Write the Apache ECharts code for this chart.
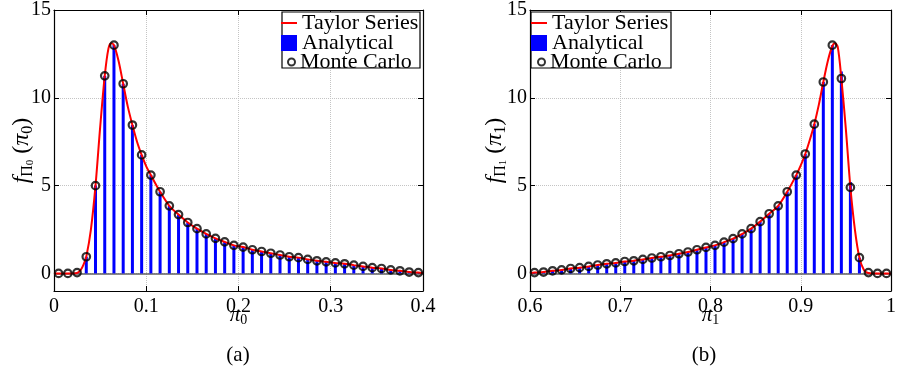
<!DOCTYPE html>
<html>
<head>
<meta charset="utf-8">
<script src="https://cdn.jsdelivr.net/npm/echarts@6/dist/echarts.min.js"></script>
<style>html,body{margin:0;padding:0;background:#fff}#c{width:899px;height:373px}</style>
</head>
<body>
<div id="c"></div>
<script>
// ---------- data ----------
const leftX = [0.005,0.015,0.025,0.035,0.045,0.055,0.065,0.075,0.085,0.095,0.105,0.115,0.125,0.135,0.145,0.155,0.165,0.175,0.185,0.195,0.205,0.215,0.225,0.235,0.245,0.255,0.265,0.275,0.285,0.295,0.305,0.315,0.325,0.335,0.345,0.355,0.365,0.375,0.385,0.395];
const leftAnalytical = [0,0,0.05,0.95,5.0,11.25,13.0,10.8,8.45,6.75,5.6,4.65,3.85,3.35,2.9,2.55,2.25,2.0,1.8,1.6,1.5,1.35,1.25,1.15,1.05,0.95,0.9,0.8,0.72,0.66,0.6,0.55,0.47,0.4,0.33,0.28,0.2,0.15,0.08,0.05];
const leftMonteCarlo = [0,0,0.05,0.95,5.0,11.25,13.0,10.8,8.45,6.75,5.6,4.65,3.85,3.35,2.9,2.55,2.25,2.0,1.8,1.6,1.5,1.35,1.25,1.15,1.05,0.95,0.9,0.8,0.72,0.66,0.6,0.55,0.47,0.4,0.33,0.28,0.2,0.15,0.08,0.05];
const leftTaylorX = [0,0.005,0.015,0.025,0.029,0.032,0.035,0.04,0.045,0.05,0.055,0.059,0.062,0.065,0.07,0.075,0.08,0.085,0.09,0.095,0.1,0.105,0.115,0.125,0.135,0.145,0.155,0.165,0.175,0.185,0.195,0.205,0.215,0.225,0.235,0.245,0.255,0.265,0.275,0.285,0.295,0.305,0.315,0.325,0.335,0.345,0.355,0.365,0.375,0.385,0.395,0.4];
const leftTaylorY = [0,0,0,0.02,0.2,0.5,0.95,2.5,5.0,8.3,11.25,12.8,13.1,13.0,12.1,10.8,9.5,8.45,7.5,6.75,6.1,5.6,4.65,3.85,3.35,2.9,2.55,2.25,2.0,1.8,1.6,1.5,1.35,1.25,1.15,1.05,0.95,0.9,0.8,0.72,0.66,0.6,0.55,0.47,0.4,0.33,0.28,0.2,0.15,0.08,0.05,0.03];

const rightX = [0.605,0.615,0.625,0.635,0.645,0.655,0.665,0.675,0.685,0.695,0.705,0.715,0.725,0.735,0.745,0.755,0.765,0.775,0.785,0.795,0.805,0.815,0.825,0.835,0.845,0.855,0.865,0.875,0.885,0.895,0.905,0.915,0.925,0.935,0.945,0.955,0.965,0.975,0.985,0.995];
const rightAnalytical = [0.05,0.08,0.15,0.2,0.28,0.33,0.4,0.48,0.55,0.6,0.68,0.72,0.8,0.88,0.95,1.02,1.12,1.22,1.35,1.48,1.6,1.78,1.98,2.25,2.55,2.95,3.4,3.85,4.65,5.6,6.8,8.5,10.9,13.0,11.5,5.2,0.9,0.05,0,0];
const rightMonteCarlo = [0.05,0.08,0.15,0.2,0.28,0.33,0.4,0.48,0.55,0.6,0.68,0.72,0.8,0.88,0.95,1.02,1.12,1.22,1.35,1.48,1.6,1.78,1.98,2.25,2.55,2.95,3.4,3.85,4.65,5.6,6.8,8.5,10.9,13.0,11.1,4.9,0.9,0.05,0,0];
const rightTaylorX = [0.6,0.605,0.615,0.625,0.635,0.645,0.655,0.665,0.675,0.685,0.695,0.705,0.715,0.725,0.735,0.745,0.755,0.765,0.775,0.785,0.795,0.805,0.815,0.825,0.835,0.845,0.855,0.865,0.875,0.885,0.895,0.9,0.905,0.91,0.915,0.92,0.925,0.93,0.935,0.938,0.941,0.945,0.95,0.955,0.96,0.965,0.97,0.975,0.985,1];
const rightTaylorY = [0.03,0.05,0.08,0.15,0.2,0.28,0.33,0.4,0.48,0.55,0.6,0.68,0.72,0.8,0.88,0.95,1.02,1.12,1.22,1.35,1.48,1.6,1.78,1.98,2.25,2.55,2.95,3.4,3.85,4.65,5.6,6.15,6.8,7.6,8.5,9.6,10.9,12.1,12.95,13.1,12.9,11.1,8.2,4.9,2.5,0.9,0.2,0.02,0,0];

const leftXTicks = {min: 0, max: 0.4, interval: 0.1};
const rightXTicks = {min: 0.6, max: 1, interval: 0.1};
const yRange = {min: -1, max: 15};
const yTickValues = [0, 5, 10, 15];

// ---------- chart ----------
const FONT = '"Liberation Serif", "DejaVu Serif", serif';
const chart = echarts.init(document.getElementById('c'));

function zip(xs, ys) { return xs.map((x, i) => [x, ys[i]]); }

const grids = [
  {left: 54, right: 476, top: 10, bottom: 82},
  {left: 530, right: 2, top: 10, bottom: 82}
];
const GRIDLINE = {type: 'dotted', color: '#c4c4c4', width: 1};

function xAxes(ticks, gi) {
  const base = {
    type: 'value', gridIndex: gi, min: ticks.min, max: ticks.max, interval: ticks.interval,
    axisLine: {show: true, onZero: false, lineStyle: {color: '#000', width: 1.2}},
    axisTick: {show: true, inside: true, length: 5, lineStyle: {color: '#000'}},
  };
  return [
    Object.assign({}, base, {
      position: 'bottom',
      axisLabel: {color: '#000', fontFamily: FONT, fontSize: 20, margin: 6,
        formatter: v => String(+(+v).toFixed(1))},
      splitLine: {show: true, lineStyle: GRIDLINE},
      name: '{p|π}{s|' + (gi === 0 ? '0' : '1') + '}',
      nameLocation: 'middle', nameGap: 14, nameMoveOverlap: false,
      nameTextStyle: {rich: {
        p: {fontFamily: FONT, fontSize: 21, fontStyle: 'italic', color: '#000', lineHeight: 22, verticalAlign: 'top'},
        s: {fontFamily: FONT, fontSize: 14, color: '#000', lineHeight: 22, verticalAlign: 'bottom', padding: [10, 0, 0, 0]}
      }}
    }),
    Object.assign({}, base, {
      position: 'top', axisLabel: {show: false}, splitLine: {show: false}
    })
  ];
}

function yAxes(gi) {
  const base = {
    type: 'value', gridIndex: gi, min: yRange.min, max: yRange.max, splitNumber: 3,
    axisLine: {show: true, onZero: false, lineStyle: {color: '#000', width: 1.2}},
    axisTick: {show: true, inside: true, length: 5, lineStyle: {color: '#000'}, customValues: yTickValues},
  };
  const sub = gi === 0 ? '0' : '1';
  return [
    Object.assign({}, base, {
      position: 'left',
      axisLabel: {color: '#000', fontFamily: FONT, fontSize: 20, margin: 3, customValues: yTickValues,
        formatter: v => (v < 0 ? '' : String(v))},
      splitLine: {show: true, lineStyle: GRIDLINE},
      name: '{f|f}{s|Π}{ss|' + sub + '}{p| (}{f|π}{s|' + sub + '}{p|)}',
      nameLocation: 'middle', nameRotate: 90, nameGap: gi === 0 ? 18 : 21, nameMoveOverlap: false,
      nameTextStyle: {rich: {
        f: {fontFamily: FONT, fontSize: 24, fontStyle: 'italic', color: '#000', lineHeight: 28},
        p: {fontFamily: FONT, fontSize: 24, color: '#000', lineHeight: 28},
        s: {fontFamily: FONT, fontSize: 16, color: '#000', lineHeight: 28, verticalAlign: 'bottom'},
        ss: {fontFamily: FONT, fontSize: 11, color: '#000', lineHeight: 28, verticalAlign: 'bottom'}
      }}
    }),
    Object.assign({}, base, {
      position: 'right', axisLabel: {show: false}, splitLine: {show: false}
    })
  ];
}

function seriesFor(gi, xs, ana, mc, tx, ty) {
  const xi = gi * 2, yi = gi * 2;
  return [
    {
      type: 'bar', name: 'Analytical', xAxisIndex: xi, yAxisIndex: yi,
      data: zip(xs, ana), barWidth: 3, itemStyle: {color: '#0000ff'}, z: 2,
      animation: false,
      markLine: {
        silent: true, symbol: 'none', label: {show: false},
        lineStyle: {color: '#606060', width: 1.5, type: 'solid'},
        data: [{yAxis: 0}], z: 1, animation: false
      }
    },
    {
      type: 'line', name: 'Taylor Series', xAxisIndex: xi, yAxisIndex: yi,
      data: zip(tx, ty), smooth: 0.3, symbol: 'none', showSymbol: false,
      lineStyle: {color: '#ff0000', width: 2}, itemStyle: {color: '#ff0000'}, z: 3,
      animation: false
    },
    {
      type: 'scatter', name: 'Monte Carlo', xAxisIndex: xi, yAxisIndex: yi,
      data: zip(xs, mc), symbol: 'circle', symbolSize: 7.5,
      itemStyle: {color: 'rgba(0,0,0,0)', borderColor: '#000', borderWidth: 2.2}, z: 4,
      animation: false
    }
  ];
}

function legendsFor(x0) {
  const ts = {fontFamily: FONT, fontSize: 22, color: '#000', lineHeight: 20};
  return [
    {data: [{name: 'Taylor Series', icon: 'rect'}], left: x0, top: 12, itemWidth: 16, itemHeight: 2, padding: 0,
      textStyle: ts, selectedMode: false, z: 6, itemStyle: {color: '#ff0000'}},
    {data: [{name: 'Analytical', icon: 'rect'}], left: x0, top: 32, itemWidth: 16, itemHeight: 16, padding: 0,
      textStyle: ts, selectedMode: false, z: 6},
    {data: [{name: 'Monte Carlo', icon: 'circle'}], left: x0 + 6, top: 51, itemWidth: 7, itemHeight: 7, padding: 0,
      textStyle: ts, selectedMode: false, z: 6,
      itemStyle: {color: 'rgba(0,0,0,0)', borderColor: '#000', borderWidth: 2}}
  ];
}

const option = {
  backgroundColor: '#fff',
  animation: false,
  grid: grids.map(g => Object.assign({}, g, {show: false})),
  xAxis: [...xAxes(leftXTicks, 0), ...xAxes(rightXTicks, 1)],
  yAxis: [...yAxes(0), ...yAxes(1)],
  legend: [...legendsFor(281), ...legendsFor(531)],
  series: [
    ...seriesFor(0, leftX, leftAnalytical, leftMonteCarlo, leftTaylorX, leftTaylorY),
    ...seriesFor(1, rightX, rightAnalytical, rightMonteCarlo, rightTaylorX, rightTaylorY)
  ],
  graphic: [
    {type: 'rect', z: 5, shape: {x: 282, y: 12, width: 138, height: 56},
      style: {fill: '#fff', stroke: '#000', lineWidth: 1.2}},
    {type: 'rect', z: 5, shape: {x: 531, y: 12, width: 140, height: 56},
      style: {fill: '#fff', stroke: '#000', lineWidth: 1.2}},
    {type: 'text', x: 238, y: 355, style: {text: '(a)', align: 'center', verticalAlign: 'middle',
      font: '21px "Liberation Serif"', fill: '#000'}},
    {type: 'text', x: 704, y: 355, style: {text: '(b)', align: 'center', verticalAlign: 'middle',
      font: '21px "Liberation Serif"', fill: '#000'}}
  ]
};
chart.setOption(option);
</script>
</body>
</html>
